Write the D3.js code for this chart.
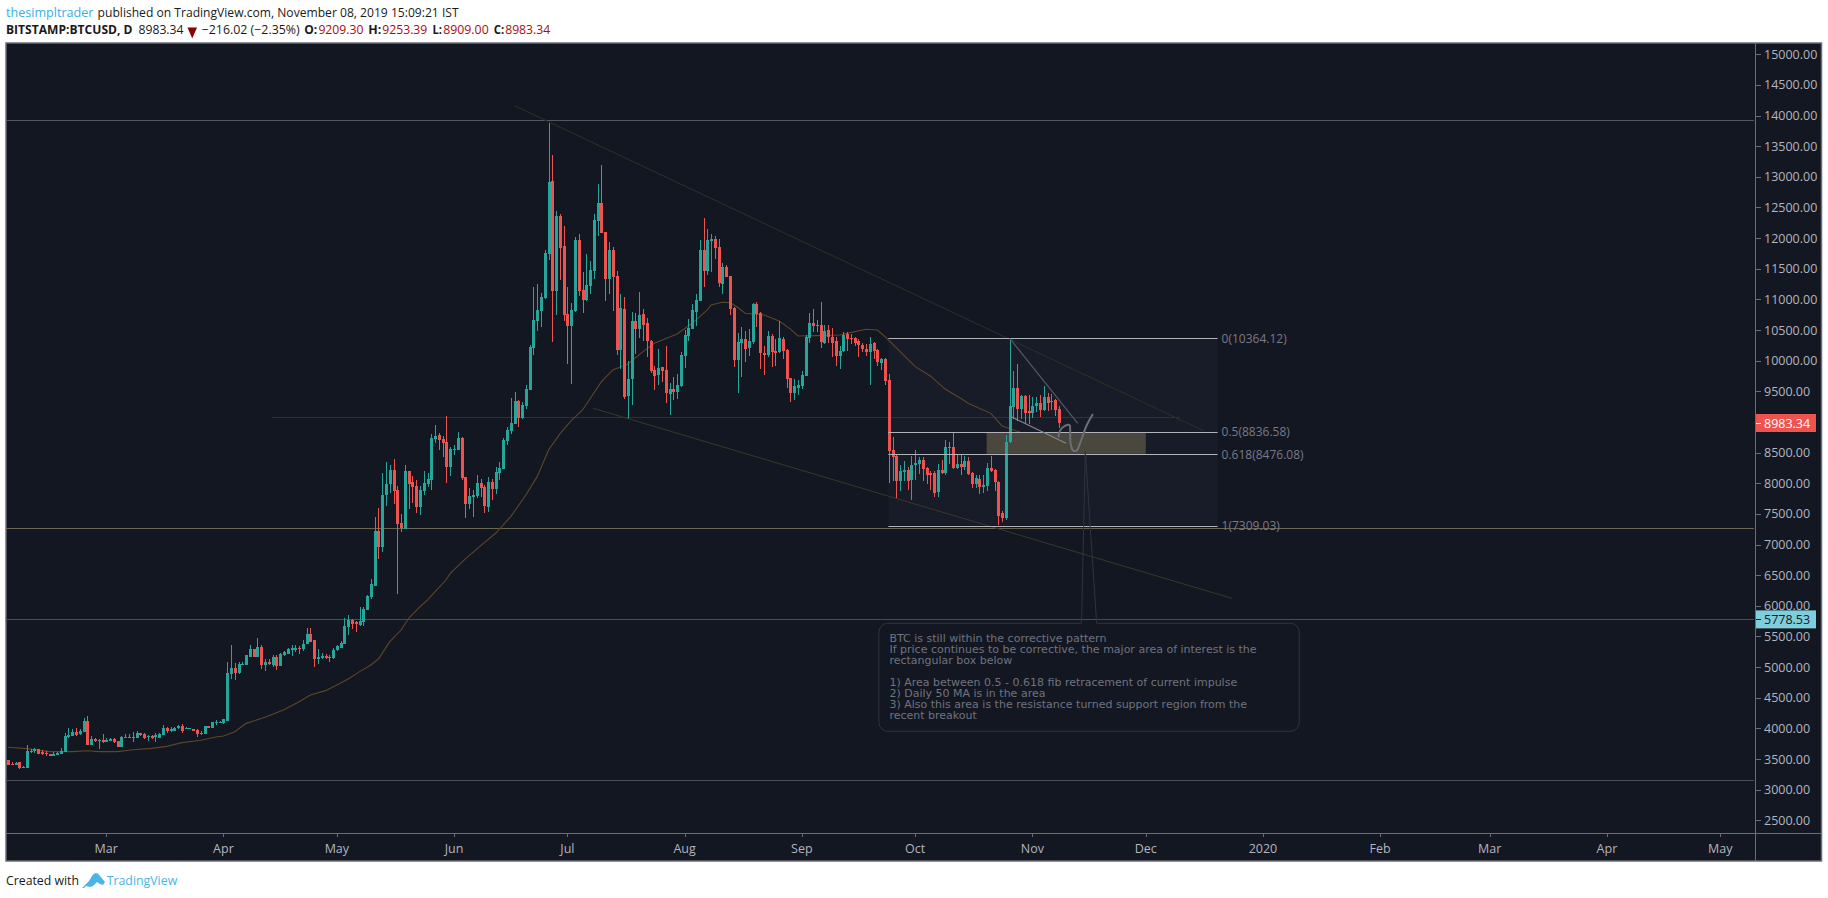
<!DOCTYPE html>
<html><head><meta charset="utf-8">
<style>html,body{margin:0;padding:0;background:#fff}svg{display:block}text{white-space:pre}</style>
<script src="https://cdn.jsdelivr.net/npm/d3@7"></script></head><body>
<svg id="c" width="1828" height="898"></svg>
<script>
// ---- candles: [open, high, low, close], one list per month
const feb=[[3484,3490,3400,3408],[3419,3457,3400,3408],[3408,3445,3400,3440],[3446,3450,3337,3348],[3375,3391,3355,3359],[3353,3723,3350,3631],[3636,3663,3593,3614],[3631,3674,3593,3663],[3658,3665,3585,3587],[3620,3647,3565,3582],[3604,3636,3555,3576],[3587,3590,3550,3555],[3555,3620,3550,3587],[3571,3620,3565,3604],[3582,3674,3580,3636],[3614,3919,3610,3876],[3854,4000,3850,3897],[3881,3984,3875,3946],[3941,4000,3876,3886],[3903,3984,3900,3963],[3941,4175,3935,4115],[4120,4202,3725,3729],[3729,3876,3725,3827],[3827,3838,3783,3794],[3805,3832,3663,3810],[3810,3908,3756,3772]];
const mar=[[3783,3848,3778,3810],[3799,3838,3795,3821],[3821,3838,3767,3778],[3794,3800,3690,3696],[3696,3876,3690,3854],[3843,3908,3838,3865],[3848,3908,3838,3859],[3865,3935,3783,3859],[3848,3952,3845,3919],[3919,3930,3881,3897],[3908,3919,3821,3838],[3859,3897,3799,3870],[3881,3897,3827,3848],[3859,3919,3783,3892],[3848,3920,3845,3914],[3892,4055,3888,4006],[4000,4017,3919,3957],[3957,4028,3941,3984],[3957,4028,3952,4006],[4000,4050,3984,4039],[4044,4071,3919,3957],[3990,4017,3985,4000],[3990,4005,3985,4000],[3984,3990,3960,3963],[3974,3984,3865,3908],[3919,3963,3892,3930],[3908,4044,3905,4039],[4039,4044,4006,4011],[4011,4104,4006,4099],[4088,4137,4055,4099],[4093,4115,4088,4104]];
const apr=[[4082,4159,4066,4148],[4120,5088,4115,4898],[4887,5355,4800,4985],[4985,5072,4789,4898],[4898,5088,4887,5050],[5034,5088,5030,5050],[5034,5200,5030,5192],[5170,5360,5165,5295],[5295,5300,5165,5170],[5170,5475,5165,5322],[5322,5360,4963,5028],[5034,5132,4930,5083],[5083,5132,5040,5050],[5028,5197,4996,5170],[5160,5197,4952,5012],[5018,5235,5015,5213],[5192,5262,5188,5240],[5213,5317,5210,5295],[5284,5360,5180,5306],[5284,5360,5250,5317],[5317,5344,5213,5311],[5295,5442,5270,5382],[5377,5632,5375,5539],[5539,5632,5410,5415],[5442,5442,5007,5132],[5132,5289,5050,5160],[5143,5224,5126,5181],[5181,5208,5126,5148],[5170,5197,5088,5154],[5143,5306,5140,5278]];
const may=[[5278,5360,5268,5344],[5317,5420,5315,5387],[5377,5795,5375,5670],[5659,5844,5523,5768],[5768,5779,5627,5708],[5740,5757,5577,5697],[5680,5975,5670,5746],[5735,5985,5670,5947],[5931,6175,5925,6159],[6137,6437,6110,6355],[6330,7450,6320,7222],[7222,7592,6765,6966],[6966,8168,6879,7809],[7809,8348,7630,7989],[7989,8299,7847,8217],[8217,8397,7662,7880],[7891,7956,6194,7336],[7352,7499,7205,7265],[7260,8299,7255,8201],[8201,8205,7581,7989],[8021,8119,7679,7945],[7956,8054,7515,7613],[7613,7956,7483,7891],[7875,8201,7809,8005],[7989,8168,7940,8070],[8054,8805,7891,8739],[8723,8952,8658,8778],[8788,8821,8544,8707],[8723,8772,8429,8658],[8674,9098,8005,8266],[8266,8593,8119,8560]];
const jun=[[8549,8625,8462,8560],[8544,8837,8540,8739],[8739,8756,8054,8087],[8103,8103,7434,7662],[7662,7923,7581,7793],[7777,7891,7450,7809],[7793,8136,7760,8005],[8005,8070,7777,7923],[7940,7972,7515,7630],[7613,8103,7532,8021],[8021,8070,7728,7907],[7907,8266,7825,8185],[8168,8348,8054,8250],[8233,8739,8230,8707],[8690,8919,8625,8870],[8854,9392,8805,8984],[8968,9490,8960,9343],[9343,9360,8919,9066],[9066,9327,9050,9278],[9262,9604,9213,9539],[9522,10250,9515,10224],[10208,11203,10094,10665],[10648,11252,10485,10828],[10812,11105,10551,11040],[11024,11807,11008,11758],[11742,13880,11644,12917],[12933,13358,10306,11138],[11138,12444,10746,12362],[12362,12395,11318,11840],[11872,12199,10648,10746]];
const jul=[[10763,11203,9947,10567],[10567,10942,9620,10828],[10812,12019,10800,11970],[11970,12068,11056,11138],[11154,11448,10779,10991],[10991,11742,10980,11236],[11220,11628,11089,11481],[11464,12395,11334,12297],[12280,12884,12036,12574],[12574,13194,12080,12085],[12101,12101,10975,11334],[11334,11938,11089,11807],[11807,11856,10812,11367],[11383,11464,10094,10175],[10175,11089,9865,10861],[10844,11040,9376,9408],[9424,9996,9049,9702],[9702,10795,9278,10648],[10648,10779,10110,10518],[10518,11122,10371,10746],[10763,10844,10322,10583],[10616,10697,10061,10322],[10322,10338,9800,9832],[9849,9914,9522,9751],[9767,10191,9604,9881],[9898,9905,9653,9832],[9849,10240,9310,9473],[9457,9637,9114,9539],[9539,9735,9359,9490],[9490,9783,9376,9604],[9588,10143,9571,10094]];
const aug=[[10077,10502,9881,10420],[10404,10681,10322,10534],[10518,10926,10510,10828],[10795,11089,10567,10991],[10975,11970,10970,11807],[11807,12329,11203,11464],[11464,12150,11399,11970],[11954,12068,11448,11987],[11987,12036,11660,11840],[11856,11987,11203,11269],[11252,11595,11089,11530],[11530,11562,11360,11367],[11383,11390,10746,10844],[10861,10870,9898,10012],[10012,10453,9473,10306],[10289,10551,9735,10355],[10355,10485,9979,10191],[10208,10518,10077,10322],[10306,10942,10273,10926],[10926,10959,10551,10763],[10779,10795,9865,10126],[10126,10240,9767,10094],[10094,10485,10061,10404],[10404,10436,9898,10143],[10159,10355,9914,10126],[10143,10648,10130,10371],[10355,10387,10028,10159],[10175,10185,9555,9702],[9718,9725,9327,9473],[9473,9702,9359,9588],[9555,9686,9441,9604]];
const sep=[[9587,9832,9539,9767],[9751,10420,9745,10387],[10371,10779,10289,10616],[10616,10844,10469,10567],[10583,10665,10469,10567],[10583,10958,10208,10306],[10289,10583,10280,10485],[10501,10583,10289,10387],[10387,10534,10061,10289],[10322,10387,9914,10077],[10077,10240,9865,10159],[10159,10469,10150,10420],[10436,10469,10159,10355],[10371,10436,10273,10349],[10371,10387,10240,10289],[10322,10355,10061,10257],[10257,10289,10142,10191],[10191,10273,10077,10142],[10142,10387,9604,10273],[10289,10306,10028,10159],[10175,10191,9914,9979],[9963,10044,9849,10028],[10028,10044,9604,9669],[9685,9783,8004,8527],[8543,8755,8037,8429],[8445,8462,7743,8037],[8037,8298,7874,8200],[8184,8364,8037,8217],[8217,8265,7890,8037],[8053,8445,7727,8298]];
const oct=[[8298,8543,8053,8331],[8315,8429,8151,8380],[8380,8429,8037,8233],[8249,8260,7988,8135],[8168,8200,7890,8135],[8168,8200,7776,7841],[7858,8315,7776,8217],[8217,8380,8151,8168],[8168,8706,8135,8592],[8592,8674,8315,8576],[8592,8820,8233,8249],[8249,8461,8240,8315],[8315,8478,8135,8265],[8265,8445,8217,8364],[8364,8429,8135,8151],[8168,8184,7923,7988],[7988,8135,7923,8086],[8070,8135,7825,7939],[7939,8135,7841,7972],[7955,8331,7874,8249],[8249,8445,8190,8200],[8217,8225,7874,8021],[8021,8040,7319,7472],[7510,7553,7374,7428],[7428,8788,7400,8679],[8680,10364,8653,9262],[9250,9833,9050,9556],[9556,9947,9017,9213],[9213,9441,9050,9425],[9425,9441,8979,9148],[9180,9441,8968,9148]];
const nov=[[9148,9414,9061,9262],[9262,9403,9169,9311],[9311,9441,9077,9197],[9197,9588,9186,9409],[9409,9480,9180,9311],[9327,9458,9197,9343],[9360,9382,9099,9197],[9209.3,9253.39,8909,8983.34]];
// ---- 50-day moving average, read at these candle numbers
const maIndex=[0,5,11,17,21,24,29,33,38,42,46,51,55,57,60,63,68,73,77,80,84,87,90,93,96,98,101,104,106,109,111,116,117,121,126,129,133,137,140,143,146,149,152,157,160,164,168,171,177,181,185,186,189,191,193,195,200,204,207,209,214,220,224,227,230,232,236,240,244,248,252,254,260,263,266,270,274,278];
const maValues=[3691,3669,3620,3620,3636,3620,3620,3652,3674,3707,3767,3805,3859,3876,3946,4082,4180,4305,4436,4545,4616,4708,4806,4926,5035,5132,5415,5605,5796,5985,6096,6433,6530,6765,7031,7184,7456,7809,8108,8544,8805,9022,9196,9658,9849,9947,10148,10284,10436,10610,10828,10910,10953,10948,10871,10774,10746,10648,10515,10404,10409,10420,10474,10512,10501,10393,10148,9903,9751,9533,9386,9305,9141,8935,8869,8788,8706,8635];
// ---- axes
const priceTicks=d3.range(2500,15001,500);
const monthTicks=[["2019-03-01","Mar"],["2019-04-01","Apr"],["2019-05-01","May"],["2019-06-01","Jun"],["2019-07-01","Jul"],["2019-08-01","Aug"],["2019-09-01","Sep"],["2019-10-01","Oct"],["2019-11-01","Nov"],["2019-12-01","Dec"],["2020-01-01","2020"],["2020-02-01","Feb"],["2020-03-01","Mar"],["2020-04-01","Apr"],["2020-05-01","May"]];
// ---- drawings, in [candle number, price]
const fullLines=[13924,7265,3153];
const levelFive=5778.53;
const midLine={from:69.8,to:310,price:9087};
const fibLevels=[[0,10364.12],[0.5,8836.58],[0.618,8476.08],[1,7309.03]];
const fibSpan=[232.9,320];
const zoneIdx=[258.9,301], zonePrice=[8836,8480];
const upperTrend=[[133.9,14164],[316.4,8853]];
const lowerTrend=[[154.8,9224],[323.9,6120]];
const wedgeUpper=[[265,10364],[283,8979]];
const wedgeLower=[[265.3,9087],[279.9,8653]];
const sketch=[[277.9,8760],[278.3,8858],[279.6,8935],[280.8,8951],[281,8816],[281.1,8653],[281.8,8532],[282.7,8532],[283.6,8653],[285.4,8951],[286.9,9119]];
const calloutTip=[285,8516], calloutBase=[284,288];
const boxIdx=[230.4,341.6], boxPrice=[5715,3952];
const noteLines=["BTC is still within the corrective pattern","If price continues to be corrective, the major area of interest is the","rectangular box below","","1) Area between 0.5 - 0.618 fib retracement of current impulse","2) Daily 50 MA is in the area","3) Also this area is the resistance turned support region from the","recent breakout"];
const lastPrice=8983.34;

const candles=[...feb,...mar,...apr,...may,...jun,...jul,...aug,...sep,...oct,...nov];
const t0=Date.UTC(2019,1,3), DAY=864e5;
const L=6,R=1755,T=43,B=833,RR=1821.5,BB=861;
const tx=d3.scaleUtc().domain([new Date(t0),new Date(t0+453*DAY)]).range([8,8+453*3.78]);
const X=i=>tx(new Date(t0+i*DAY));
const Y=d3.scaleLinear().domain([2500,15000]).range([820.3,54.3]);
const svg=d3.select("#c");
const F='"Open Sans","Noto Sans",sans-serif';
svg.append("rect").attr("x",L).attr("y",T).attr("width",RR-L).attr("height",BB-T).attr("fill","#131722").attr("stroke","#6a6d78").attr("stroke-width",1.5);
const defs=svg.append("defs");
defs.append("clipPath").attr("id","plot").append("rect").attr("x",L).attr("y",T).attr("width",R-L).attr("height",B-T);
const g=svg.append("g").attr("clip-path","url(#plot)");
const seg=(p,c,w=1)=>g.append("line").attr("x1",X(p[0][0])).attr("y1",Y(p[0][1])).attr("x2",X(p[1][0])).attr("y2",Y(p[1][1])).attr("stroke",c).attr("stroke-width",w);
// fib background
g.append("rect").attr("x",X(fibSpan[0])).attr("width",X(fibSpan[1])-X(fibSpan[0])).attr("y",Y(fibLevels[0][1])).attr("height",Y(fibLevels[3][1])-Y(fibLevels[0][1])).attr("fill","#181c28");
// zone
g.append("rect").attr("x",X(zoneIdx[0])).attr("width",X(zoneIdx[1])-X(zoneIdx[0])).attr("y",Y(zonePrice[0])).attr("height",Y(zonePrice[1])-Y(zonePrice[0])).attr("fill","#4a473f");
// horizontals
const hcol=["#55575f","#6a6552","#4c4e57"];
g.selectAll("line.h").data(fullLines).join("line").attr("class","h").attr("x1",L).attr("x2",R-1).attr("y1",d=>Math.round(Y(d))+.5).attr("y2",d=>Math.round(Y(d))+.5).attr("stroke",(d,i)=>hcol[i]);
g.append("line").attr("x1",L).attr("x2",R-1).attr("y1",Math.round(Y(levelFive))+.5).attr("y2",Math.round(Y(levelFive))+.5).attr("stroke","#3f4f5b");
g.append("line").attr("x1",X(midLine.from)).attr("x2",X(midLine.to)).attr("y1",Math.round(Y(midLine.price))+.5).attr("y2",Math.round(Y(midLine.price))+.5).attr("stroke","#1b3a45");
// MA
g.append("path").datum(maIndex.map((d,i)=>[d,maValues[i]])).attr("fill","none").attr("stroke","#5e4626").attr("stroke-width",1.1).attr("d",d3.line().x(d=>X(d[0])).y(d=>Y(d[1])));
// candles
const up="#26a69a",dn="#ef5350";
const cg=g.append("g").attr("shape-rendering","crispEdges");
cg.selectAll("rect.w").data(candles).join("rect").attr("class","w").attr("x",(d,i)=>Math.round(X(i))).attr("width",1).attr("y",d=>Y(d[1])).attr("height",d=>Math.max(1,Y(d[2])-Y(d[1]))).attr("fill",d=>d[3]>=d[0]?up:dn);
cg.selectAll("rect.b").data(candles).join("rect").attr("class","b").attr("x",(d,i)=>Math.round(X(i))-1).attr("width",3).attr("y",d=>Y(Math.max(d[0],d[3]))).attr("height",d=>Math.max(1,Y(Math.min(d[0],d[3]))-Y(Math.max(d[0],d[3])))).attr("fill",d=>d[3]>=d[0]?up:dn);
// trends
seg(upperTrend,"#2f3127");seg(lowerTrend,"#3a3826");
// fib lines
g.selectAll("line.f").data(fibLevels).join("line").attr("class","f").attr("x1",X(fibSpan[0])).attr("x2",X(fibSpan[1])).attr("y1",d=>Math.round(Y(d[1]))+.5).attr("y2",d=>Math.round(Y(d[1]))+.5).attr("stroke","#b3b4b9");
g.selectAll("text.f").data(fibLevels).join("text").attr("class","f").attr("x",X(fibSpan[1])+4).attr("y",d=>Y(d[1])+4.5).attr("font-family",F).attr("font-size",12).attr("fill","#787b86").text(d=>`${d[0]}(${d[1].toFixed(2)})`);
// wedge
seg(wedgeUpper,"#555864",1.2);seg(wedgeLower,"#858791",1.2);
g.append("path").datum(sketch).attr("fill","none").attr("stroke","#6d6f75").attr("stroke-width",2).attr("stroke-linecap","round").attr("d",d3.line().x(d=>X(d[0])).y(d=>Y(d[1])).curve(d3.curveCatmullRom));
// callout
const bx0=X(boxIdx[0]),bx1=X(boxIdx[1]),by0=Y(boxPrice[0]),by1=Y(boxPrice[1]),r=9;
const pth=d3.path();
pth.moveTo(bx0+r,by0);pth.lineTo(X(calloutBase[0]),by0);pth.lineTo(X(calloutTip[0]),Y(calloutTip[1]));pth.lineTo(X(calloutBase[1]),by0);
pth.arcTo(bx1,by0,bx1,by0+r,r);pth.arcTo(bx1,by1,bx1-r,by1,r);pth.arcTo(bx0,by1,bx0,by1-r,r);pth.arcTo(bx0,by0,bx0+r,by0,r);pth.closePath();
g.append("path").attr("d",pth.toString()).attr("fill","#131722").attr("fill-opacity",0).attr("stroke","#2f333e");
g.selectAll("text.n").data(noteLines).join("text").attr("class","n").attr("x",bx0+10.5).attr("y",(d,i)=>642+i*11).attr("font-family",'"DejaVu Sans",sans-serif').attr("font-size",11).attr("fill","#6f737f").text(d=>d);
// axis frame
svg.append("line").attr("x1",R+.5).attr("x2",R+.5).attr("y1",T).attr("y2",BB).attr("stroke","#6a6d78");
svg.append("line").attr("x1",L).attr("x2",RR).attr("y1",B+.5).attr("y2",B+.5).attr("stroke","#6a6d78");
// price axis
const pa=svg.append("g");
pa.selectAll("line").data(priceTicks).join("line").attr("x1",R+1).attr("x2",R+6).attr("y1",d=>Math.round(Y(d))+.5).attr("y2",d=>Math.round(Y(d))+.5).attr("stroke","#6a6d78");
pa.selectAll("text").data(priceTicks).join("text").attr("x",R+9).attr("y",d=>Y(d)+4.5).attr("font-family",F).attr("font-size",12.5).attr("fill","#b2b5be").text(d=>d.toFixed(2));
// time axis
const ta=svg.append("g");
ta.selectAll("line").data(monthTicks).join("line").attr("x1",d=>Math.round(tx(new Date(d[0])))+.5).attr("x2",d=>Math.round(tx(new Date(d[0])))+.5).attr("y1",B+1).attr("y2",B+4).attr("stroke","#6a6d78");
ta.selectAll("text").data(monthTicks).join("text").attr("x",d=>tx(new Date(d[0]))).attr("y",853).attr("text-anchor","middle").attr("font-family",F).attr("font-size",12.5).attr("fill","#b2b5be").text(d=>d[1]);
// price labels
function tag(p,fill,col){const y=Y(p);svg.append("rect").attr("x",R+1).attr("y",y-9).attr("width",60).attr("height",18).attr("fill",fill);
 svg.append("line").attr("x1",R+1).attr("x2",R+6).attr("y1",Math.round(y)+.5).attr("y2",Math.round(y)+.5).attr("stroke",col);
 svg.append("text").attr("x",R+9).attr("y",y+4.5).attr("font-family",F).attr("font-size",12.5).attr("fill",col).text(p.toFixed(2));}
tag(lastPrice,"#ef5350","#ffffff");tag(levelFive,"#7fcedc","#131722");
// header
const txt=(s,x,y,o={})=>svg.append("text").attr("x",x).attr("y",y).attr("font-family",F).attr("font-size",o.size||13).attr("font-weight",o.bold?700:400).attr("fill",o.fill||"#1a1a1a").attr("textLength",o.len||null).attr("lengthAdjust","spacingAndGlyphs").text(s);
txt("thesimpltrader",6,17,{fill:"#39afe3",len:87.5,size:13});
txt("published on TradingView.com, November 08, 2019 15:09:21 IST",97.6,17,{len:361});
txt("BITSTAMP:BTCUSD, D",6,34,{bold:true,len:126.5,size:11.5});
txt("8983.34",138.5,34,{len:45});
svg.append("path").attr("d","M187.5 27.5h9.5l-4.75 11z").attr("fill","#8b0000");
txt("−216.02 (−2.35%)",201.7,34,{len:98,size:12});
const red="#a80d0d";
txt("O:",304.2,34,{bold:true,len:13,size:12});txt("9209.30",318.4,34,{fill:red,len:45});
txt("H:",368.2,34,{bold:true,len:13,size:12});txt("9253.39",382.3,34,{fill:red,len:45});
txt("L:",432.5,34,{bold:true,len:9.5,size:12});txt("8909.00",443.2,34,{fill:red,len:45.5});
txt("C:",493.7,34,{bold:true,len:10.5,size:12});txt("8983.34",505.2,34,{fill:red,len:45});
// footer
txt("Created with",6,885,{len:73,size:13});
svg.append("path").attr("d","M82 888l7-7 3-5q2-3 4-3t4 3l5 6-2 3-3-1-3-2-4 4-3 1-4-1-2 2z").attr("fill","#4cb4e6");
txt("TradingView",106.7,885,{fill:"#4cb4e6",len:70.5,size:13});
</script></body></html>
